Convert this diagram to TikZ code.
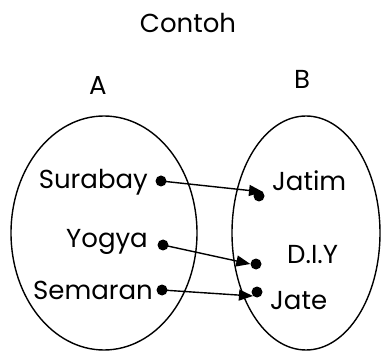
\documentclass[tikz,border=0pt]{standalone}
\usepackage{fontspec}
\setmainfont{Poppins}
\usetikzlibrary{arrows.meta}

\tikzset{
    elem/.style={font=\fontsize{26}{30}\selectfont, inner sep=0pt},
    dot/.style={circle, fill, inner sep=0pt, minimum size=11pt},
    map/.style={line width=1.4pt, -{Triangle[length=14pt,width=11pt]}},
}

\begin{document}
\begin{tikzpicture}[x=1pt, y=-1pt]

    \useasboundingbox (0,0) rectangle (381,353);

    \draw[line width=1.4pt] (104,233) ellipse (93 and 117);
    \draw[line width=1.4pt] (306,233) ellipse (74 and 117);

    \node[elem] (title) at (188,23) {Contoh};
    \node[elem] (setA) at (98,85) {A};
    \node[elem] (setB) at (302,79) {B};

    % domain
    \node[elem, anchor=east] (sby) at (148,182) {Surabay};
    \node[elem, anchor=east] (yog) at (148,242) {Yogya};
    \node[elem, anchor=east] (smg) at (153,290) {Semaran};
    \node[dot] (sbydot) at (161,181) {};
    \node[dot] (yogdot) at (163,245) {};
    \node[dot] (smgdot) at (162,290) {};

    % codomain
    \node[elem, anchor=west] (jatim) at (272,181) {Jatim};
    \node[elem, anchor=west] (diy) at (287,255) {D.I.Y};
    \node[elem, anchor=west] (jate) at (270,301) {Jate};
    \node[dot] (jatimdot) at (259,196) {};
    \node[dot] (diydot) at (256,264) {};
    \node[dot] (jatedot) at (257,292) {};

    \draw[map] (sbydot.center) -- (jatimdot.north east);
    \draw[map] (yogdot.center) -- (diydot.west);
    \draw[map] (smgdot.center) -- (jatedot.south west);

\end{tikzpicture}
\end{document}
